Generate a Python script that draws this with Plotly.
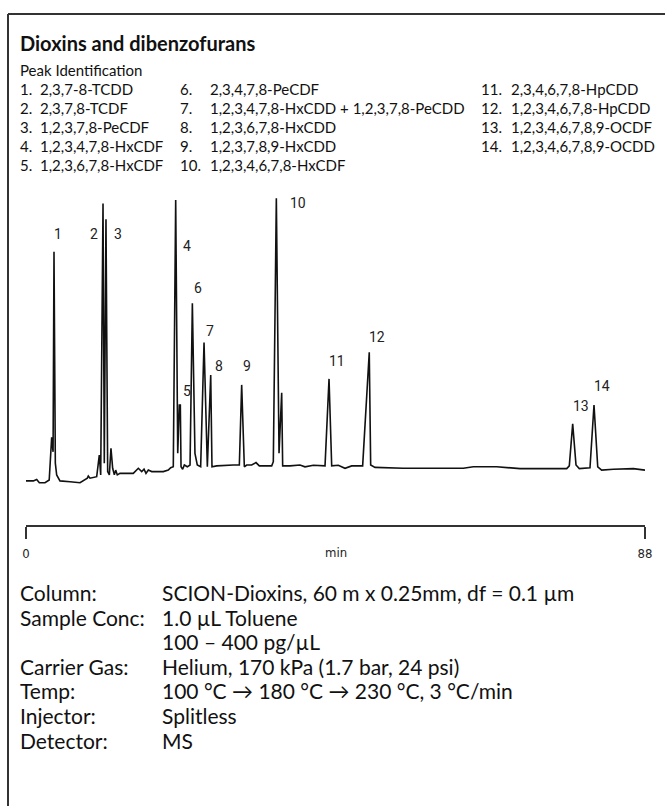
import plotly.graph_objects as go

# Chromatogram trace: retention time (min) and detector response (% of full scale)
time_min = [
    0.00, 1.04, 1.52, 1.90, 2.70, 3.30, 3.65, 3.85, 3.98, 4.17, 4.36, 4.83,
    6.26, 7.68, 8.72, 8.86, 9.10, 10.05, 10.42, 10.62, 10.95, 11.13, 11.37,
    11.61, 11.85, 12.08, 12.32, 12.56, 12.75, 12.98, 13.36, 15.25, 15.97,
    16.45, 16.78, 17.06, 17.39, 17.87, 19.52, 20.23, 20.57, 20.94, 21.28,
    21.57, 21.80, 21.94, 22.04, 22.27, 22.51, 22.93, 23.32, 23.65, 24.02,
    24.35, 24.83, 25.31, 25.78, 26.26, 26.44, 27.11, 29.47, 30.33, 30.66,
    31.04, 31.37, 32.08, 32.70, 33.17, 34.93, 35.16, 35.59, 35.97, 36.35,
    36.49, 37.53, 38.95, 39.66, 40.85, 42.51, 43.08, 43.46, 44.40, 45.35,
    46.30, 47.86, 48.80, 49.00, 49.62, 53.64, 62.17, 63.60, 66.91, 70.23,
    76.87, 77.24, 77.72, 78.19, 78.66, 80.18, 80.75, 81.28, 81.84, 83.50,
    86.34, 88.00,
]
signal = [
    -0.3, -0.3, 0.2, -0.9, -0.9, 0.0, 14.2, 9.4, 76.1, 5.6, 1.7, -0.3,
    -0.6, -0.9, 0.6, 1.3, 0.6, 1.1, 8.3, 1.7, 92.2, 5.6, 86.9,
    2.8, 1.7, 10.6, 3.9, 1.7, 3.3, 1.7, 2.2, 2.2, 3.9,
    2.8, 3.6, 2.2, 3.3, 2.8, 2.8, 3.3, 4.1, 4.4, 93.3,
    8.9, 25.0, 25.0, 4.4, 3.6, 5.0, 4.4, 5.0, 58.9, 8.9,
    5.0, 4.4, 45.8, 4.4, 35.0, 4.4, 4.7, 5.0, 5.0, 31.7,
    4.4, 5.0, 5.0, 5.8, 4.7, 4.7, 6.1, 93.9, 8.9, 29.1,
    4.7, 4.7, 5.0, 4.4, 4.9, 4.7, 33.7, 4.7, 4.9, 3.9,
    4.7, 4.7, 42.6, 5.0, 4.2, 3.9, 3.9, 4.4, 4.4, 3.8,
    3.8, 4.7, 18.7, 5.0, 3.8, 4.1, 25.0, 4.4, 3.3, 3.6,
    3.8, 3.3,
]

# Peak identification
peak_numbers = list(range(1, 15))
peak_times = [3.98, 10.95, 11.37, 21.28, 21.87, 23.65, 25.31, 26.26,
              30.66, 35.59, 43.08, 48.80, 77.72, 80.75]
compounds = [
    "2,3,7-8-TCDD",
    "2,3,7,8-TCDF",
    "1,2,3,7,8-PeCDF",
    "1,2,3,4,7,8-HxCDF",
    "1,2,3,6,7,8-HxCDF",
    "2,3,4,7,8-PeCDF",
    "1,2,3,4,7,8-HxCDD + 1,2,3,7,8-PeCDD",
    "1,2,3,6,7,8-HxCDD",
    "1,2,3,7,8,9-HxCDD",
    "1,2,3,4,6,7,8-HxCDF",
    "2,3,4,6,7,8-HpCDD",
    "1,2,3,4,6,7,8-HpCDD",
    "1,2,3,4,6,7,8,9-OCDF",
    "1,2,3,4,6,7,8,9-OCDD",
]

axis_ticks = [0, 88]
axis_unit = "min"

condition_names = ["Column:", "Sample Conc:", "", "Carrier Gas:", "Temp:",
                   "Injector:", "Detector:"]
condition_values = [
    "SCION-Dioxins, 60 m x 0.25mm, df = 0.1 µm",
    "1.0 µL Toluene",
    "100 – 400 pg/µL",
    "Helium, 170 kPa (1.7 bar, 24 psi)",
    "100 °C → 180 °C → 230 °C, 3 °C/min",
    "Splitless",
    "MS",
]

# ---- page geometry (pixels) ----
FIG_W, FIG_H = 665, 806
PLOT_L, PLOT_R = 26, 645
PLOT_T, PLOT_B = 195, 525
PW, PH = PLOT_R - PLOT_L, PLOT_B - PLOT_T


def px(x):
    return (x - PLOT_L) / PW


def py(y):
    return (PLOT_B - y) / PH


TEXT_FONT = "Lato, 'Open Sans', sans-serif"
LABEL_FONT = "Roboto, 'Liberation Sans', sans-serif"
TICK_FONT = "'Liberation Sans Narrow', 'DejaVu Sans Condensed', Roboto, sans-serif"

fig = go.Figure()
fig.add_trace(go.Scatter(
    x=time_min, y=signal, mode="lines",
    line=dict(color="#111111", width=1.6),
    hoverinfo="skip", showlegend=False,
))

annotations = []

# peak number labels, offset from each apex in pixels
label_offsets = {
    1: (4, 18), 2: (-9, -31), 3: (12, -15), 4: (11, -46), 5: (7, 14),
    6: (6, 15), 7: (6, 12), 8: (8, 9), 9: (5, 19), 10: (22, -5),
    11: (8, 18), 12: (8, 15), 13: (8, 18), 14: (8, 19),
}
for num, t in zip(peak_numbers, peak_times):
    apex = max(s for tt, s in zip(time_min, signal) if abs(tt - t) <= 0.15)
    dx, dy = label_offsets[num]
    annotations.append(dict(
        x=t, y=apex, xref="x", yref="y", text=str(num), showarrow=False,
        xanchor="center", yanchor="middle", xshift=dx, yshift=dy,
        font=dict(family=LABEL_FONT, size=14, color="#222222"),
    ))

# axis unit label
annotations.append(dict(
    x=sum(axis_ticks) / 2, y=py(552), xref="x", yref="paper", text=axis_unit,
    showarrow=False, xanchor="center", yanchor="middle",
    font=dict(family=TICK_FONT, size=13, color="#222222"),
))

# title and peak identification list
annotations.append(dict(
    x=px(18), y=py(43), xref="paper", yref="paper",
    text="<b>Dioxins and dibenzofurans</b>", showarrow=False,
    xanchor="left", yanchor="middle",
    font=dict(family=TEXT_FONT, size=20, color="#111111"),
))
annotations.append(dict(
    x=px(18), y=py(70), xref="paper", yref="paper",
    text="Peak Identification", showarrow=False,
    xanchor="left", yanchor="middle",
    font=dict(family=TEXT_FONT, size=15, color="#111111"),
))
col_num_x = [18, 178, 479]
col_name_x = [38, 208, 509]
row_y = [89, 108, 127, 146, 165]
for i, (num, name) in enumerate(zip(peak_numbers, compounds)):
    col = 0 if i < 5 else (1 if i < 10 else 2)
    row = i - 5 * col
    for xx, txt in ((col_num_x[col], f"{num}."), (col_name_x[col], name)):
        annotations.append(dict(
            x=px(xx), y=py(row_y[row]), xref="paper", yref="paper",
            text=txt, showarrow=False, xanchor="left", yanchor="middle",
            font=dict(family=TEXT_FONT, size=15, color="#111111"),
        ))

# run conditions
cond_y = [592, 617, 641, 666, 690, 715, 740]
for yy, name, value in zip(cond_y, condition_names, condition_values):
    for xx, txt in ((18, name), (160, value)):
        if not txt:
            continue
        annotations.append(dict(
            x=px(xx), y=py(yy), xref="paper", yref="paper",
            text=txt, showarrow=False, xanchor="left", yanchor="middle",
            font=dict(family=TEXT_FONT, size=21, color="#111111"),
        ))

# frame: top and left rules
shapes = [
    dict(type="line", xref="paper", yref="paper",
         x0=px(8), x1=px(FIG_W + 5), y0=py(14), y1=py(14),
         line=dict(color="#333333", width=2)),
    dict(type="line", xref="paper", yref="paper",
         x0=px(8), x1=px(8), y0=py(14), y1=py(FIG_H + 5),
         line=dict(color="#333333", width=2)),
]

fig.update_layout(
    width=FIG_W, height=FIG_H,
    margin=dict(l=PLOT_L, r=FIG_W - PLOT_R, t=PLOT_T, b=FIG_H - PLOT_B, pad=0),
    paper_bgcolor="white", plot_bgcolor="white",
    annotations=annotations, shapes=shapes,
    xaxis=dict(
        range=[0, 88], tickvals=axis_ticks, ticktext=[str(v) for v in axis_ticks],
        showline=True, linecolor="#333333", linewidth=1.5,
        ticks="outside", ticklen=12, tickwidth=1.5, tickcolor="#333333",
        ticklabelstandoff=4,
        showgrid=False, zeroline=False,
        tickfont=dict(family=TICK_FONT, size=13, color="#222222"),
    ),
    yaxis=dict(range=[-15, 95], visible=False, showgrid=False, zeroline=False),
)

fig.write_html("out.html")
